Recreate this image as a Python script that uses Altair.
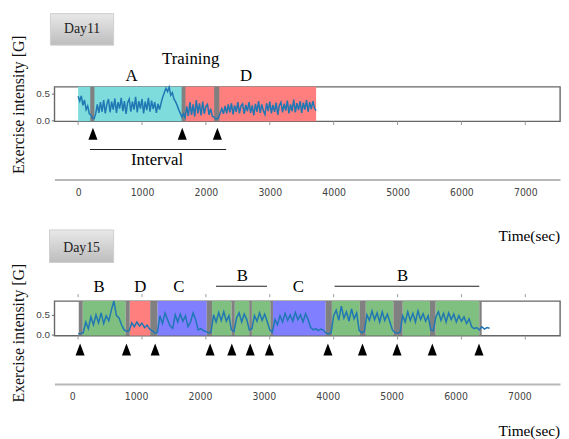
import altair as alt
import pandas as pd

# ---------------- data ----------------
X_TICKS = [0, 1000, 2000, 3000, 4000, 5000, 6000, 7000]
X_DOMAIN = [-371, 7543]

# Day11 exercise intensity, one value every 25 s from t = 0
D11_STEP = 25
D11_VALUES = [
    0.45, 0.36, 0.46, 0.28, 0.38, 0.20, 0.27, 0.12, 0.10, 0.04,
    0.03, 0.12, 0.30, 0.14, 0.34, 0.16, 0.38, 0.13, 0.30, 0.40,
    0.15, 0.35, 0.20, 0.41, 0.14, 0.34, 0.22, 0.42, 0.17, 0.36,
    0.12, 0.33, 0.40, 0.16, 0.35, 0.20, 0.44, 0.15, 0.36, 0.22,
    0.40, 0.13, 0.35, 0.19, 0.42, 0.16, 0.37, 0.21, 0.34, 0.14,
    0.31, 0.20, 0.33, 0.44, 0.52, 0.60, 0.54, 0.62, 0.47, 0.52,
    0.40, 0.35, 0.28, 0.20, 0.13, 0.06, 0.12, 0.05, 0.26, 0.08,
    0.34, 0.10, 0.30, 0.07, 0.38, 0.13, 0.32, 0.09, 0.35, 0.12,
    0.26, 0.30, 0.10, 0.22, 0.08, 0.06, 0.03, 0.03, 0.05, 0.14,
    0.22, 0.12, 0.27, 0.13, 0.30, 0.15, 0.32, 0.11, 0.28, 0.16,
    0.34, 0.13, 0.27, 0.31, 0.12, 0.29, 0.17, 0.34, 0.14, 0.28,
    0.09, 0.31, 0.16, 0.36, 0.14, 0.30, 0.18, 0.11, 0.32, 0.17,
    0.35, 0.13, 0.29, 0.16, 0.33, 0.10, 0.28, 0.34, 0.15, 0.31,
    0.18, 0.37, 0.13, 0.30, 0.17, 0.39, 0.15, 0.32, 0.19, 0.36,
    0.14, 0.33, 0.20, 0.38, 0.16, 0.34, 0.21, 0.36, 0.23, 0.18,
]

# Day15 exercise intensity, one value every 40 s from t = 0
D15_STEP = 40
D15_VALUES = [
    0.02, 0.03, 0.05, 0.32, 0.15, 0.45, 0.25, 0.50, 0.30, 0.55,
    0.28, 0.48, 0.35, 0.62, 0.85, 0.48, 0.42, 0.25, 0.12, 0.08,
    0.10, 0.30, 0.20, 0.32, 0.22, 0.29, 0.18, 0.24, 0.14, 0.10,
    0.04, 0.05, 0.48, 0.28, 0.55, 0.38, 0.22, 0.16, 0.50, 0.32,
    0.52, 0.34, 0.48, 0.20, 0.32, 0.55, 0.38, 0.12, 0.15, 0.10,
    0.08, 0.04, 0.06, 0.50, 0.32, 0.56, 0.36, 0.58, 0.34, 0.48,
    0.12, 0.08, 0.42, 0.55, 0.32, 0.52, 0.38, 0.12, 0.15, 0.48,
    0.34, 0.55, 0.36, 0.52, 0.33, 0.12, 0.06, 0.38, 0.25, 0.48,
    0.32, 0.54, 0.36, 0.50, 0.34, 0.56, 0.38, 0.50, 0.32, 0.53,
    0.38, 0.18, 0.12, 0.15, 0.10, 0.14, 0.11, 0.04, 0.02, 0.05,
    0.48, 0.62, 0.36, 0.72, 0.42, 0.58, 0.34, 0.65, 0.40, 0.55,
    0.10, 0.05, 0.08, 0.50, 0.36, 0.60, 0.38, 0.55, 0.32, 0.58,
    0.36, 0.52, 0.32, 0.12, 0.05, 0.04, 0.06, 0.48, 0.32, 0.58,
    0.36, 0.54, 0.32, 0.60, 0.38, 0.53, 0.34, 0.48, 0.12, 0.10,
    0.45, 0.58, 0.36, 0.54, 0.32, 0.55, 0.38, 0.52, 0.32, 0.48,
    0.34, 0.45, 0.28, 0.40, 0.20, 0.15, 0.18, 0.12, 0.20, 0.14,
    0.18, 0.16,
]

# exercise segments: start, end, kind
D11_SEG_START = [0, 1654, 190, 1620, 2130]
D11_SEG_END = [1654, 3725, 255, 1680, 2210]
D11_SEG_KIND = ["A", "D", "gap", "gap", "gap"]

D15_SEG_START = [72, 808, 1241, 2097, 2452, 2720, 3050, 3972, 4502, 5080, 5595,
                 10, 742, 1128, 2014, 2400, 2678, 3009, 3874, 4410, 4935, 5507, 6280]
D15_SEG_END = [742, 1128, 2014, 2400, 2678, 3009, 3874, 4410, 4935, 5507, 6280,
               72, 808, 1241, 2097, 2452, 2720, 3050, 3972, 4502, 5080, 5595, 6317]
D15_SEG_KIND = ["B", "D", "C", "B", "B", "B", "C", "B", "B", "B", "B",
                "gap", "gap", "gap", "gap", "gap", "gap", "gap", "gap", "gap", "gap", "gap", "gap"]

KINDS = ["A", "B", "C", "D", "gap"]
KIND_COLORS = ["#7fdcdc", "#7fbf7f", "#7f7fff", "#ff7f7f", "#808080"]

# arrows (interval starts)
D11_ARROWS = [232, 1630, 2180]
D15_ARROWS = [31, 757, 1206, 2066, 2406, 2694, 2994, 3910, 4451, 4992, 5544, 6275]

# annotation texts
D11_TEXT = ["A", "Training", "D", "Interval"]
D11_TEXT_T = [835, 1762, 2628, 1236]
D11_TEXT_V = [0.84, 1.154, 0.84, -0.753]
D11_LINE_T = [185]
D11_LINE_T2 = [2318]
D11_LINE_V = [-0.55]

D15_TEXT = ["B", "D", "C", "B", "C", "B"]
D15_TEXT_T = [329, 974, 1577, 2570, 3447, 5080]
D15_TEXT_V = [1.2, 1.2, 1.2, 1.475, 1.2, 1.475]
D15_LINE_T = [2159, 4014]
D15_LINE_T2 = [2957, 6280]
D15_LINE_V = [1.225, 1.225]

# ---------------- styling helpers ----------------
SERIF = "Liberation Serif"
NARROW = "Liberation Sans Narrow, DejaVu Sans Condensed, Liberation Sans"

X_SCALE = alt.Scale(domain=X_DOMAIN, nice=False, zero=False)


def make_axes(y_domain, axis_offset, title_y, label_offset):
    x_axis = alt.Axis(values=X_TICKS, format="d", title=None, grid=False, ticks=False,
                      domain=True, domainColor="#b8b8b8", domainWidth=2,
                      offset=axis_offset, labelPadding=8, labelFont=NARROW,
                      labelFontSize=10.5, labelColor="#444", labelOffset=label_offset)
    y_axis = alt.Axis(values=[0, 0.5], format=".1f", grid=False, domain=False,
                      ticks=True, tickSize=3, tickColor="#666", labelPadding=2,
                      labelFont="Liberation Sans", labelFontSize=10, labelColor="#444",
                      title="Exercise intensity [G]", titleFont=SERIF, titleFontSize=16,
                      titleFontWeight="normal", titleColor="#111", titleX=-28,
                      titleY=title_y, titleAngle=-90, titleAlign="center",
                      titleBaseline="bottom")
    y_scale = alt.Scale(domain=y_domain, nice=False, zero=False)
    return x_axis, y_axis, y_scale


def section(values, step, seg_start, seg_end, seg_kind, arrows, arrow_v,
            texts, text_t, text_v, line_t, line_t2, line_v,
            day_label, day_box, y_domain, axis_offset, title_y, label_offset,
            tick_rows, extra_texts):
    x_axis, y_axis, y_scale = make_axes(y_domain, axis_offset, title_y, label_offset)

    def X(field="t"):
        return alt.X(f"{field}:Q", scale=X_SCALE, axis=x_axis)

    def Y(field="v"):
        return alt.Y(f"{field}:Q", scale=y_scale, axis=y_axis)

    series = pd.DataFrame({"t": [i * step for i in range(len(values))], "v": values})
    segs = pd.DataFrame({"t": seg_start, "t2": seg_end, "kind": seg_kind,
                         "order": list(range(len(seg_kind)))})
    segs["v"] = y_domain[0]
    segs["v2"] = y_domain[1]

    seg_layer = alt.Chart(segs).mark_rect().encode(
        x=X(), x2="t2:Q", y=Y(), y2="v2:Q",
        color=alt.Color("kind:N", scale=alt.Scale(domain=KINDS, range=KIND_COLORS), legend=None),
        order="order:Q",
    )

    line_layer = alt.Chart(series).mark_line(color="#1f77b4", strokeWidth=1.5).encode(
        x=X(), y=Y())

    arrow_df = pd.DataFrame({"t": arrows, "v": [arrow_v] * len(arrows)})
    arrow_layer = alt.Chart(arrow_df).mark_point(
        shape="M0,-1L0.75,1L-0.75,1Z", filled=True, color="black", opacity=1, size=150
    ).encode(x=X(), y=Y())

    text_df = pd.DataFrame({"t": text_t, "v": text_v, "label": texts})
    text_layer = alt.Chart(text_df).mark_text(
        font=SERIF, fontSize=17, color="black", baseline="middle", align="center"
    ).encode(x=X(), y=Y(), text="label:N")

    rule_df = pd.DataFrame({"t": line_t, "t2": line_t2, "v": line_v})
    rule_layer = alt.Chart(rule_df).mark_rule(color="#222", strokeWidth=1.2).encode(
        x=X(), x2="t2:Q", y=Y())

    day_df = pd.DataFrame({"t": [day_box[0]], "t2": [day_box[1]],
                           "v": [day_box[2]], "v2": [day_box[3]],
                           "tc": [day_box[4]], "vc": [day_box[5]], "label": [day_label]})
    day_rect = alt.Chart(day_df).mark_rect(
        color=alt.Gradient(gradient="linear", x1=0, x2=0, y1=0, y2=1,
                           stops=[alt.GradientStop(color="#e8e8e8", offset=0),
                                  alt.GradientStop(color="#bdbdbd", offset=1)]),
        stroke="#cfcfcf", strokeWidth=1
    ).encode(x=X(), x2="t2:Q", y=Y(), y2="v2:Q")
    day_text = alt.Chart(day_df).mark_text(
        font=SERIF, fontSize=14, color="#222", baseline="middle", align="center"
    ).encode(x=X("tc"), y=Y("vc"), text="label:N")

    tick_layers = []
    for (v_a, v_b) in tick_rows:
        tdf = pd.DataFrame({"t": X_TICKS, "v": [v_a] * len(X_TICKS), "v2": [v_b] * len(X_TICKS)})
        tick_layers.append(alt.Chart(tdf).mark_rule(color="#999", strokeWidth=1).encode(
            x=X(), y=Y(), y2="v2:Q"))

    layers = [seg_layer, line_layer] + tick_layers + [arrow_layer, rule_layer, text_layer,
                                                      day_rect, day_text]
    if extra_texts:
        edf = pd.DataFrame({"t": extra_texts[0], "v": extra_texts[1], "label": extra_texts[2]})
        layers.append(alt.Chart(edf).mark_text(
            font=SERIF, fontSize=15.5, color="black", baseline="middle", align="center"
        ).encode(x=X(), y=Y(), text="label:N"))

    return alt.layer(*layers).properties(width=512, height=35)


top = section(
    D11_VALUES, D11_STEP, D11_SEG_START, D11_SEG_END, D11_SEG_KIND,
    D11_ARROWS, -0.253, D11_TEXT, D11_TEXT_T, D11_TEXT_V,
    D11_LINE_T, D11_LINE_T2, D11_LINE_V,
    "Day11", [-433, 556, 2.006, 1.413, 62, 1.71],
    [-0.02, 0.63], 59, 17.7, 0,
    [(-0.02, -0.09)], None,
)

bottom = section(
    D15_VALUES, D15_STEP, D15_SEG_START, D15_SEG_END, D15_SEG_KIND,
    D15_ARROWS, -0.375, D15_TEXT, D15_TEXT_T, D15_TEXT_V,
    D15_LINE_T, D15_LINE_T2, D15_LINE_V,
    "Day15", [-448, 556, 2.65, 1.825, 54, 2.2],
    [-0.025, 0.85], 49, 32, -6,
    [(-0.025, -0.125), (1.025, 0.95)],
    ([7063, 7063], [2.5, -2.45], ["Time(sec)", "Time(sec)"]),
)

chart = alt.vconcat(top, bottom, spacing=29).properties(
    padding={"left": 2, "top": 1, "right": 0, "bottom": 0}
).configure_view(stroke="#666", strokeWidth=1.4)

chart.save("out.html", embed_options={"renderer": "svg", "actions": False})
